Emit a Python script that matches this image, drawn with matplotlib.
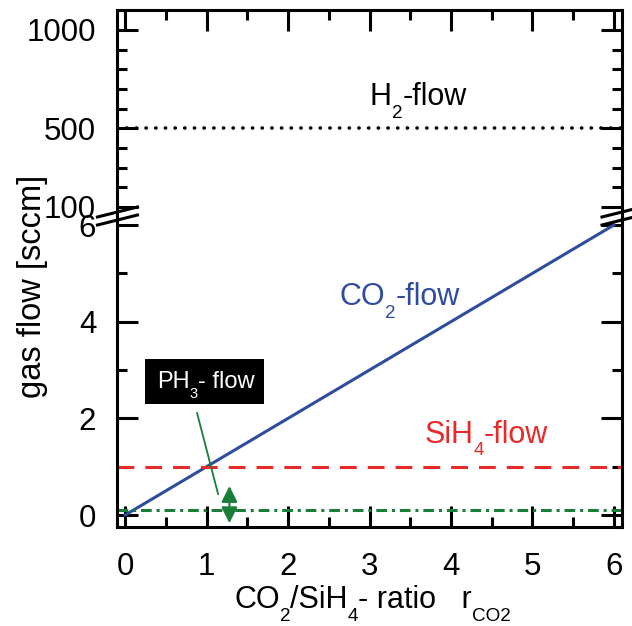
import matplotlib
matplotlib.use("Agg")
import matplotlib.pyplot as plt
from matplotlib.transforms import IdentityTransform
from matplotlib.patches import Rectangle
import numpy as np

plt.rcParams['font.family'] = ['Liberation Sans', 'DejaVu Sans']
plt.rcParams['mathtext.fontset'] = 'custom'
plt.rcParams['mathtext.rm'] = 'Liberation Sans'

# ---- data ----
ratio = [0, 6]                 # CO2/SiH4 ratio range
co2_flow = [0, 6]              # CO2 flow = ratio * SiH4 flow
sih4_flow = 1.0
ph3_flow = 0.1
h2_flow = 500
bottom_yticks = [0, 2, 4, 6]
top_yticks = [100, 500, 1000]
xticks = [0, 1, 2, 3, 4, 5, 6]

blue = '#2F4C9F'
red = '#E82A2A'
green = '#1B7D3A'

W, H = 632, 626
fig = plt.figure(figsize=(W / 100, H / 100), dpi=100)
renderer = fig.canvas.get_renderer()

L, R = 117 / W, 622 / W
yb0, ybr, yt1 = 1 - 527 / H, 1 - 216 / H, 1 - 10 / H
axb = fig.add_axes([L, yb0, R - L, ybr - yb0])
axt = fig.add_axes([L, ybr, R - L, yt1 - ybr])

xlim = (-0.1, 6.1)
for ax in (axb, axt):
    ax.set_xlim(*xlim)
    for s in ax.spines.values():
        s.set_linewidth(2.2)
    ax.tick_params(which='major', direction='in', length=15, width=2.2,
                   labelsize=22.5, pad=15, left=True, right=True)
    ax.tick_params(which='minor', direction='in', length=7.5, width=2.2,
                   left=True, right=True)
    ax.set_xticks(xticks)
    ax.set_xticks(np.arange(0.5, 6, 1), minor=True)

axb.set_ylim(-0.248, 6.187)
axb.set_yticks(bottom_yticks)
axb.set_yticks([1, 3, 5], minor=True)
axb.spines['top'].set_visible(False)
axb.tick_params(which='both', top=False, bottom=True)
axb.tick_params(axis='x', pad=18)

axt.set_ylim(54, 1101)
axt.set_yticks(top_yticks)
axt.set_yticks([200, 300, 400, 600, 700, 800, 900], minor=True)
axt.spines['bottom'].set_visible(False)
axt.tick_params(which='both', top=True, bottom=False, labelbottom=False)


def rich(xp, yp, pieces, size, color='black', zorder=5):
    """Text with low-set subscripts; (xp, yp) = centre x / baseline y in pixels."""
    sub_size = size * 0.62
    drop = 0.42 * size * 100 / 72
    texts = []
    widths = []
    for s, sub in pieces:
        t = fig.text(0, 0, s, fontsize=sub_size if sub else size, color=color,
                     transform=IdentityTransform(), ha='left', va='baseline',
                     zorder=zorder)
        texts.append((t, sub))
        widths.append(t.get_window_extent(renderer).width)
    cur = xp - sum(widths) / 2
    for (t, sub), w in zip(texts, widths):
        t.set_position((cur, yp - (drop if sub else 0)))
        cur += w
    return xp - sum(widths) / 2, cur


def rich_data(ax, x, y, pieces, size, color='black'):
    xp, yp = ax.transData.transform((x, y))
    return rich(xp, yp, pieces, size, color), yp


# H2 flow (dotted)
axt.plot(xlim, [h2_flow, h2_flow], color='black', lw=2.6,
         dashes=(0.05, 2.63), dash_capstyle='round')
rich_data(axt, 3.6, 618, [('H', 0), ('2', 1), ('-flow', 0)], 22)

# CO2 flow
axb.plot(ratio, co2_flow, color=blue, lw=2.2)
rich_data(axb, 3.37, 4.35, [('CO', 0), ('2', 1), ('-flow', 0)], 22, blue)

# SiH4 flow
axb.plot(xlim, [sih4_flow, sih4_flow], color=red, lw=2.2, dashes=(5.5, 3.6))
rich_data(axb, 4.43, 1.50, [('SiH', 0), ('4', 1), ('-flow', 0)], 22, red)

# PH3 flow
axb.plot(xlim, [ph3_flow, ph3_flow], color=green, lw=2.2,
         dashes=(3.5, 1.6, 1.0, 1.6))
axb.annotate('', xy=(1.28, -0.17), xytext=(1.28, 0.6),
             arrowprops=dict(arrowstyle='<|-|>', color=green, lw=1.6,
                             mutation_scale=24, shrinkA=0, shrinkB=0))
axb.plot([0.883, 1.141], [2.11, 0.435], color=green, lw=1.3)
(x0, x1), yb = rich_data(axb, 0.99, 2.62, [('PH', 0), ('3', 1), ('- flow', 0)], 17, 'white')
cap = 0.716 * 17 * 100 / 72
fig.add_artist(Rectangle((x0 - 12, yb - 16), (x1 - x0) + 22, 16 + cap + 12,
                         transform=IdentityTransform(), fc='black', ec='none', zorder=4))

# break marks
def brk(xc):
    for yc in (212, 220):
        fig.add_artist(plt.Line2D([(xc - 20) / W, (xc + 20) / W],
                                  [1 - (yc + 5) / H, 1 - (yc - 5) / H],
                                  color='black', lw=2.2, transform=fig.transFigure))
brk(117.5)
brk(622)

fig.text(33 / W, 1 - 286 / H, 'gas flow [sccm]', rotation=90, fontsize=23.5,
         ha='center', va='center')
rich(372.5, H - 608, [('CO', 0), ('2', 1), ('/SiH', 0), ('4', 1),
                      ('- ratio   r', 0), ('CO2', 1)], 22)

fig.savefig('out.png', dpi=100)
